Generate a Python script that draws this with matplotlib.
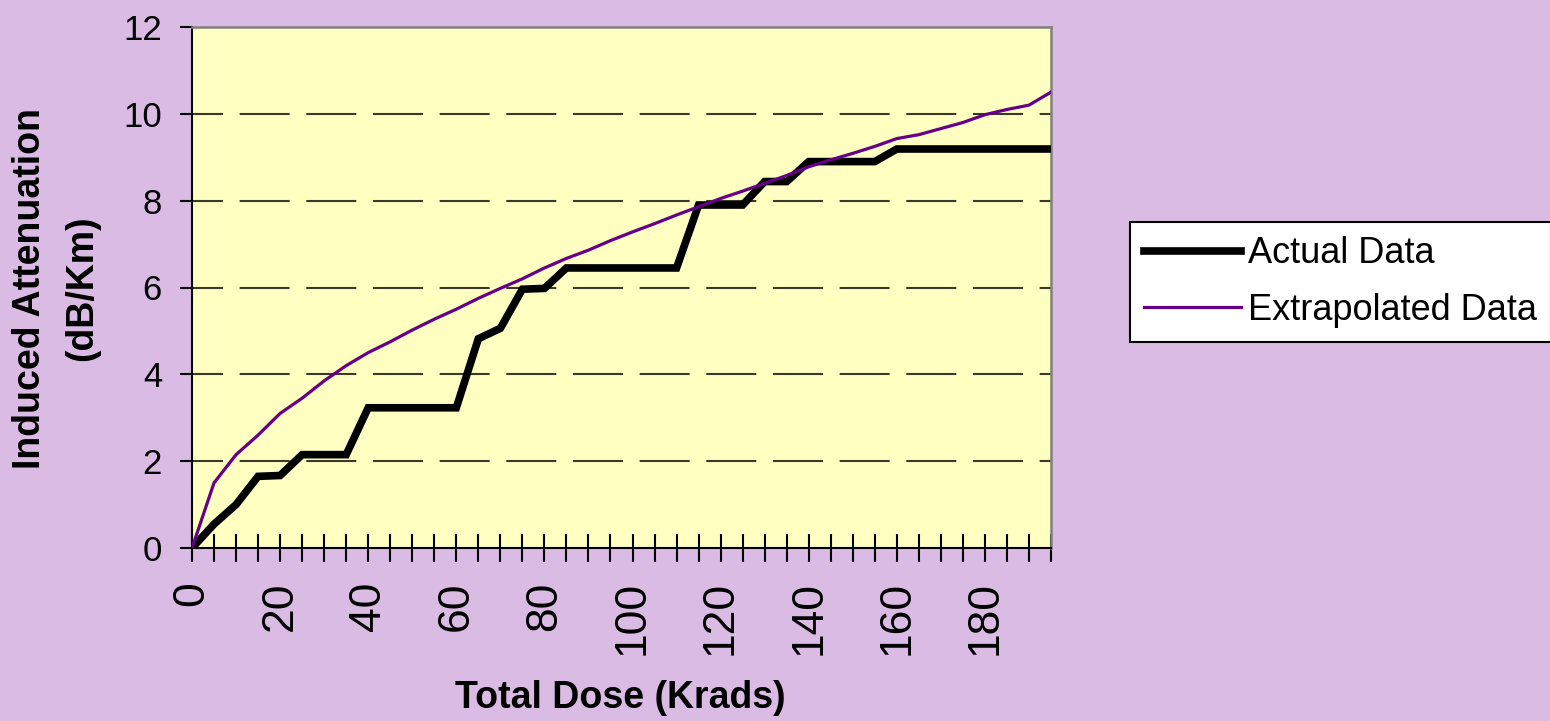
import matplotlib
matplotlib.use("Agg")
import matplotlib.pyplot as plt

plt.rcParams['font.family'] = ['Liberation Sans', 'DejaVu Sans']
plt.rcParams['lines.scale_dashes'] = False

# total dose in krads, one reading every 5
dose = [0, 5, 10, 15, 20, 25, 30, 35, 40, 45, 50, 55, 60, 65, 70, 75, 80, 85, 90, 95,
        100, 105, 110, 115, 120, 125, 130, 135, 140, 145, 150, 155, 160, 165, 170, 175,
        180, 185, 190, 195]

actual = [0, 0.55, 1.0, 1.65, 1.67, 2.15, 2.15, 2.15, 3.23, 3.23, 3.23, 3.23, 3.23,
          4.82, 5.06, 5.96, 5.98, 6.45, 6.45, 6.45, 6.45, 6.45, 6.45, 7.9, 7.9, 7.9,
          8.44, 8.44, 8.9, 8.9, 8.9, 8.9, 9.19, 9.19, 9.19, 9.19, 9.19, 9.19, 9.19, 9.19]

extrapolated = [0, 1.5, 2.15, 2.6, 3.1, 3.45, 3.85, 4.2, 4.5, 4.75, 5.02, 5.27, 5.5,
                5.75, 5.98, 6.2, 6.45, 6.67, 6.86, 7.08, 7.28, 7.47, 7.67, 7.86, 8.05,
                8.22, 8.4, 8.58, 8.78, 8.94, 9.09, 9.25, 9.43, 9.52, 9.66, 9.8, 9.98,
                10.1, 10.2, 10.5]

y_ticks = [0, 2, 4, 6, 8, 10, 12]
x_labels = [0, 20, 40, 60, 80, 100, 120, 140, 160, 180]

bg = '#D9BBE4'
fig = plt.figure(figsize=(15.5, 7.21), dpi=100, facecolor=bg)
ax = fig.add_axes([192/1550, 1 - 548/721, (1051 - 192)/1550, (548 - 27)/721])
ax.set_facecolor('#FFFFC2')

# dashed horizontal grid
for yv in y_ticks[1:-1]:
    ax.axhline(yv, color='#3a3a2a', lw=1.5, linestyle=(13.7, (36, 12)), zorder=1)

ax.plot(dose, actual, color='black', lw=5.5, solid_joinstyle='miter', label='Actual Data', zorder=3)
ax.plot(dose, extrapolated, color='#660088', lw=2.3, label='Extrapolated Data', zorder=4)

ax.set_xlim(0, 195)
ax.set_ylim(0, 12)
ax.set_yticks(y_ticks)
ax.set_yticklabels([str(v) for v in y_ticks], fontsize=25)
ax.set_xticks(dose)
ax.set_xticklabels([str(d) if d in x_labels else '' for d in dose], rotation=90,
                   fontsize=32, va='top')

ax.tick_params(axis='y', direction='out', length=8.6, width=1.5, pad=13)
ax.tick_params(axis='x', direction='inout', length=20, width=1.5, pad=14)

for side in ['left', 'bottom']:
    ax.spines[side].set_color('black')
    ax.spines[side].set_linewidth(1.5)
for side in ['top', 'right']:
    ax.spines[side].set_color('#808080')
    ax.spines[side].set_linewidth(1.8)

fig.text(30/1550, 1 - 288/721, 'Induced Attenuation', rotation=90, fontsize=27,
         fontweight='bold', ha='center', va='center')
fig.text(82/1550, 1 - 288/721, '(dB/Km)', rotation=90, fontsize=27,
         fontweight='bold', ha='center', va='center')
fig.text(620/1550, 1 - 698/721, 'Total Dose (Krads)', fontsize=27,
         fontweight='bold', ha='center', va='center')

leg = fig.legend(loc='center left', bbox_to_anchor=(1130/1550, 1 - 282/721),
                 fontsize=26, frameon=True, fancybox=False, edgecolor='black',
                 facecolor='white', framealpha=1, handlelength=2.7, handletextpad=0.2,
                 labelspacing=0.6, borderpad=0.38, borderaxespad=0)
leg.get_frame().set_linewidth(1.5)

fig.savefig('out.png', dpi=100, facecolor=bg)
